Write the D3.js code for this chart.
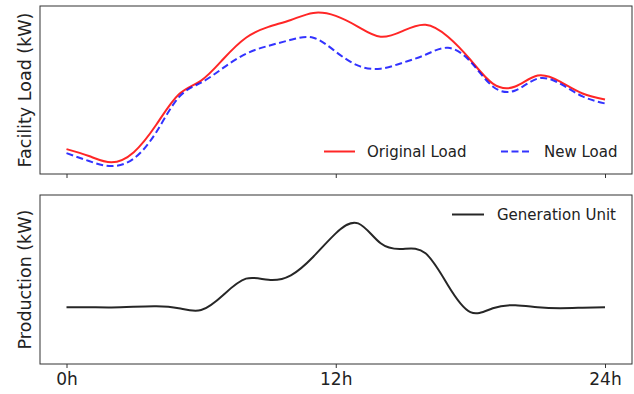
<!DOCTYPE html>
<html>
<head>
<meta charset="utf-8">
<script src="https://cdn.jsdelivr.net/npm/d3@7"></script>
<style>
  body { margin: 0; background: #fff; }
  svg { display: block; font-family: "DejaVu Sans", sans-serif; }
  .tick line { stroke: #333; }
  .tick text { fill: #222; }
</style>
</head>
<body>
<svg></svg>
<script>
// hourly readings, 0h .. 24h
var hours = d3.range(0, 25);
var hourTicks = [0, 12, 24];

var originalLoad = [14.8, 10.7, 7.0, 13.0, 29.3, 47.3, 55.6, 68.6, 81.1, 87.6, 91.7, 95.9, 94.1,
                    87.6, 81.7, 85.2, 88.8, 81.7, 68.0, 53.8, 52.1, 58.6, 55.0, 47.9, 44.4];
var newLoad = [12.4, 7.7, 4.7, 9.2, 24.9, 45.6, 54.4, 63.3, 71.6, 76.3, 79.9, 81.1, 72.8,
               64.5, 62.7, 66.3, 71.0, 75.1, 66.9, 52.1, 49.7, 56.8, 53.8, 46.2, 42.0];
var production = [33.6, 33.6, 33.5, 33.9, 34.2, 33.0, 31.9, 41.0, 50.5, 49.8, 52.5, 63.5, 77.3,
                  83.2, 71.4, 68.1, 65.5, 46.6, 30.7, 33.0, 34.8, 33.6, 33.0, 33.3, 33.6];

var width = 634;
var height = 394;

var svg = d3.select("svg")
            .attr("width", width)
            .attr("height", height);

var left = 40, right = 632;
var top1 = 6, bottom1 = 174;
var top2 = 195, bottom2 = 364;

var x = d3.scaleLinear()
          .domain([0, 24])
          .range([66.5, 605]);

var yLoad = d3.scaleLinear()
              .domain([0, 100])
              .range([bottom1, top1]);

var yProd = d3.scaleLinear()
              .domain([0, 100])
              .range([bottom2, top2]);

function lineFor(y) {
  return d3.line()
           .x((d, i) => x(hours[i]))
           .y(d => y(d))
           .curve(d3.curveNatural);
}

// ---- top panel
svg.append("g")
   .attr("transform", "translate(0," + bottom1 + ")")
   .call(d3.axisBottom(x).tickValues(hourTicks).tickSize(4).tickFormat(""))
   .call(g => g.select(".domain").remove());

svg.append("path")
   .datum(originalLoad)
   .attr("fill", "none")
   .attr("stroke", "#ff0000")
   .attr("stroke-opacity", 0.85)
   .attr("stroke-width", 2)
   .attr("d", lineFor(yLoad));

svg.append("path")
   .datum(newLoad)
   .attr("fill", "none")
   .attr("stroke", "#0000ff")
   .attr("stroke-opacity", 0.8)
   .attr("stroke-width", 2)
   .attr("stroke-dasharray", "7,3.5")
   .attr("d", lineFor(yLoad));

svg.append("rect")
   .attr("x", left).attr("y", top1)
   .attr("width", right - left).attr("height", bottom1 - top1)
   .attr("fill", "none")
   .attr("stroke", "#333")
   .attr("stroke-width", 1);

svg.append("text")
   .attr("transform", "translate(31," + (top1 + bottom1) / 2 + ") rotate(-90)")
   .attr("text-anchor", "middle")
   .attr("font-size", 17.5)
   .attr("fill", "#222")
   .text("Facility Load (kW)");

// legend top
var legendTop = [
  {name: "Original Load", color: "#ff0000", op: 0.85, dash: null, x: 324},
  {name: "New Load", color: "#0000ff", op: 0.8, dash: "7,3.5", x: 501}
];
var lg = svg.selectAll(".legend-top")
            .data(legendTop)
            .enter().append("g")
            .attr("class", "legend-top");
lg.append("line")
  .attr("x1", d => d.x).attr("x2", d => d.x + 31)
  .attr("y1", 151.5).attr("y2", 151.5)
  .attr("stroke", d => d.color)
  .attr("stroke-opacity", d => d.op)
  .attr("stroke-width", 2)
  .attr("stroke-dasharray", d => d.dash);
lg.append("text")
  .attr("x", d => d.x + 43)
  .attr("y", 157)
  .attr("font-size", 15)
  .attr("fill", "#222")
  .text(d => d.name);

// ---- bottom panel
svg.append("g")
   .attr("transform", "translate(0," + bottom2 + ")")
   .call(d3.axisBottom(x).tickValues(hourTicks).tickSize(4).tickPadding(5).tickFormat(d => d + "h"))
   .call(g => g.select(".domain").remove())
   .selectAll("text")
   .attr("font-size", 17)
   .attr("font-family", "DejaVu Sans, sans-serif");

svg.append("path")
   .datum(production)
   .attr("fill", "none")
   .attr("stroke", "#000")
   .attr("stroke-opacity", 0.85)
   .attr("stroke-width", 2)
   .attr("d", lineFor(yProd));

svg.append("rect")
   .attr("x", left).attr("y", top2)
   .attr("width", right - left).attr("height", bottom2 - top2)
   .attr("fill", "none")
   .attr("stroke", "#333")
   .attr("stroke-width", 1);

svg.append("text")
   .attr("transform", "translate(31," + (top2 + bottom2) / 2 + ") rotate(-90)")
   .attr("text-anchor", "middle")
   .attr("font-size", 17.5)
   .attr("fill", "#222")
   .text("Production (kW)");

var lb = svg.append("g");
lb.append("line")
  .attr("x1", 452).attr("x2", 484)
  .attr("y1", 214.5).attr("y2", 214.5)
  .attr("stroke", "#000")
  .attr("stroke-opacity", 0.85)
  .attr("stroke-width", 2);
lb.append("text")
  .attr("x", 497)
  .attr("y", 220)
  .attr("font-size", 15)
  .attr("fill", "#222")
  .text("Generation Unit");
</script>
</body>
</html>
